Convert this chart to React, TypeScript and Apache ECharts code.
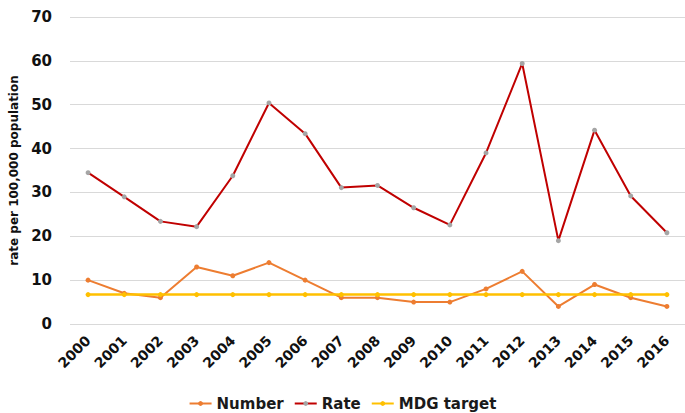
import React, { useEffect, useRef } from "react";
import * as echarts from "echarts";

const years = ["2000","2001","2002","2003","2004","2005","2006","2007","2008","2009","2010","2011","2012","2013","2014","2015","2016"];
const numberValues = [10, 7, 6, 13, 11, 14, 10, 6, 6, 5, 5, 8, 12, 4, 9, 6, 4];
const rateValues = [34.5, 29.0, 23.4, 22.2, 33.8, 50.4, 43.4, 31.1, 31.6, 26.5, 22.6, 39.0, 59.4, 19.0, 44.2, 29.2, 20.8];
const mdgValues = [6.7, 6.7, 6.7, 6.7, 6.7, 6.7, 6.7, 6.7, 6.7, 6.7, 6.7, 6.7, 6.7, 6.7, 6.7, 6.7, 6.7];

export default function App() {
  const ref = useRef<HTMLDivElement>(null);
  useEffect(() => {
    if (!ref.current) return;
    const chart = echarts.init(ref.current, null, { renderer: "svg" });
    const font = "'DejaVu Sans', sans-serif";
    chart.setOption({
      animation: false,
      textStyle: { fontFamily: font },
      grid: { left: 70, right: -2, top: 17, bottom: 89, containLabel: false },
      legend: {
        bottom: 2,
        left: "center",
        padding: 0,
        itemWidth: 22,
        itemHeight: 6,
        itemGap: 10,
        textStyle: { fontFamily: font, fontSize: 15, fontWeight: "bold", color: "#1a1a1a" },
        data: ["Number", "Rate", "MDG target"],
      },
      xAxis: {
        type: "category",
        data: years,
        boundaryGap: true,
        axisLine: { show: false },
        axisTick: { show: false },
        axisLabel: {
          rotate: 45,
          interval: 0,
          margin: 14,
          fontSize: 14,
          fontWeight: "bold",
          color: "#111",
          fontFamily: font,
        },
      },
      yAxis: {
        type: "value",
        min: 0,
        max: 70,
        interval: 10,
        name: "rate per 100,000 population",
        nameLocation: "middle",
        nameGap: 46,
        nameRotate: 90,
        nameTextStyle: { fontSize: 12, fontWeight: "bold", color: "#111", fontFamily: font },
        axisLabel: { fontSize: 15, fontWeight: "bold", color: "#111", margin: 18, fontFamily: font },
        splitLine: { lineStyle: { color: "#d9d9d9", width: 1 } },
        axisLine: { show: false },
        axisTick: { show: false },
      },
      series: [
        {
          name: "Number",
          type: "line",
          data: numberValues,
          symbol: "circle",
          symbolSize: 5,
          itemStyle: { color: "#ED7D31" },
          lineStyle: { color: "#ED7D31", width: 2 },
        },
        {
          name: "Rate",
          type: "line",
          data: rateValues,
          symbol: "circle",
          symbolSize: 5,
          itemStyle: { color: "#A5A5A5", borderWidth: 0 },
          lineStyle: { color: "#C00000", width: 2 },
        },
        {
          name: "MDG target",
          type: "line",
          data: mdgValues,
          symbol: "circle",
          symbolSize: 5,
          itemStyle: { color: "#FFC000" },
          lineStyle: { color: "#FFC000", width: 2.5 },
        },
      ],
    });
    return () => chart.dispose();
  }, []);
  return <div ref={ref} style={{ width: 685, height: 413, position: "absolute", left: 0, top: 0 }} />;
}
